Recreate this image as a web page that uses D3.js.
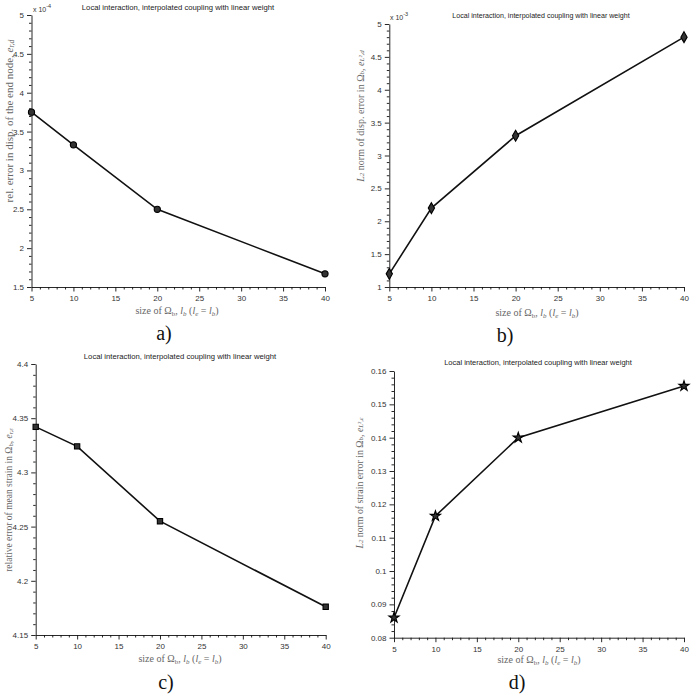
<!DOCTYPE html>
<html>
<head>
<meta charset="utf-8">
<script src="https://cdn.jsdelivr.net/npm/d3@7"></script>
<style>
  body { margin: 0; background: #fff; }
  .tick text { font-family: "Liberation Sans", Arial, sans-serif; fill: #333; }
  .lbl { font-family: "Liberation Serif", "Times New Roman", serif; fill: #666; }
</style>
</head>
<body>
<svg width="691" height="696"></svg>
<script>
// data
const sizes = [5, 10, 20, 40];
const endNodeErr = [3.75, 3.33, 2.5, 1.67];          // x 10^-4
const dispL2Err = [1.2, 2.2, 3.3, 4.8];              // x 10^-3
const meanStrainErr = [4.342, 4.324, 4.255, 4.176];
const strainL2Err = [0.086, 0.1165, 0.14, 0.1555];

const xTicks = [5, 10, 15, 20, 25, 30, 35, 40];
const yTicksA = [1.5, 2, 2.5, 3, 3.5, 4, 4.5, 5];
const yTicksB = [1, 1.5, 2, 2.5, 3, 3.5, 4, 4.5, 5];
const yTicksC = [4.15, 4.2, 4.25, 4.3, 4.35, 4.4];
const yTicksD = [0.08, 0.09, 0.1, 0.11, 0.12, 0.13, 0.14, 0.15, 0.16];

const title = "Local interaction, interpolated coupling with linear weight";

const svg = d3.select("svg");

// split every major interval into 5
function minorOf(ticks) {
  const out = [];
  for (let i = 0; i < ticks.length - 1; i++) {
    const step = (ticks[i + 1] - ticks[i]) / 5;
    for (let k = 1; k < 5; k++) out.push(ticks[i] + k * step);
  }
  return out;
}

// text with subscripts/italics: parts = [[text, style], ...]
function richText(sel, parts) {
  parts.forEach(([t, s]) => {
    const ts = sel.append("tspan").text(t);
    if (s && s.includes("i")) ts.attr("font-style", "italic");
    if (s && s.includes("sub")) ts.attr("font-size", "70%").attr("baseline-shift", "-25%");
  });
}

const xLabelParts = [["size of Ω"], ["b", "sub"], [", "], ["l", "i"], ["b", "sub i"],
  [" ("], ["l", "i"], ["e", "sub i"], [" = "], ["l", "i"], ["b", "sub i"], [")"]];

const panels = [
  { xr: [31.5, 325], yr: [287, 15], yTicks: yTicksA, values: endNodeErr,
    symbol: d3.symbolCircle, size: 30, exp: "-4", expPos: [33, 12],
    title: [178, 10, 7.7], ylab: [9, 121, 11],
    ylabParts: [["rel. error in disp. of the end node, "], ["e", "i"], ["r,d", "sub i"]],
    xlab: [177, 314], tag: ["a)", 164, 340] },
  { xr: [389.3, 684], yr: [287, 24], yTicks: yTicksB, values: dispL2Err,
    symbol: d3.symbolDiamond, size: 34, exp: "-3", expPos: [390, 20],
    title: [541, 18, 7.1], ylab: [360, 116, 10],
    ylabParts: [["L", "i"], ["2", "sub i"], [" norm of disp. error in Ω"], ["b", "sub"], [", "], ["e", "i"], ["L²,d", "sub i"]],
    xlab: [537, 316], tag: ["b)", 505, 342] },
  { xr: [35.7, 325.7], yr: [635, 364], yTicks: yTicksC, values: meanStrainErr,
    symbol: d3.symbolSquare, size: 28, exp: null,
    title: [180, 359, 7.7], ylab: [9, 500, 9.5],
    ylabParts: [["relative error of mean strain in Ω"], ["b", "sub"], [", "], ["e", "i"], ["r,ε", "sub i"]],
    xlab: [180, 662], tag: ["c)", 166, 689] },
  { xr: [394, 684], yr: [637.7, 371], yTicks: yTicksD, values: strainL2Err,
    symbol: d3.symbolStar, size: 32, exp: null,
    title: [538, 365, 7.5], ylab: [359, 483, 9.8],
    ylabParts: [["L", "i"], ["2", "sub i"], [" norm of strain error in Ω"], ["b", "sub"], [", "], ["e", "i"], ["L²,ε", "sub i"]],
    xlab: [539, 663], tag: ["d)", 517, 689] }
];

const fmt = d => String(+d.toFixed(3));

panels.forEach(p => {
  const yTicks = p.yTicks;
  const x = d3.scaleLinear().domain([5, 40]).range(p.xr);
  const y = d3.scaleLinear().domain([yTicks[0], yTicks[yTicks.length - 1]]).range(p.yr);
  const g = svg.append("g");

  // minor ticks
  g.append("g").attr("transform", `translate(0,${p.yr[0]})`)
    .call(d3.axisBottom(x).tickValues(d3.range(6, 40).filter(v => v % 5)).tickSize(2.5).tickFormat(""))
    .call(a => a.select(".domain").remove());
  g.append("g").attr("transform", `translate(${p.xr[0]},0)`)
    .call(d3.axisLeft(y).tickValues(minorOf(yTicks)).tickSize(2.5).tickFormat(""))
    .call(a => a.select(".domain").remove());

  // major axes
  g.append("g").attr("transform", `translate(0,${p.yr[0]})`)
    .call(d3.axisBottom(x).tickValues(xTicks).tickSize(4.5).tickPadding(4).tickSizeOuter(0))
    .call(a => a.selectAll("text").attr("font-size", 8));
  g.append("g").attr("transform", `translate(${p.xr[0]},0)`)
    .call(d3.axisLeft(y).tickValues(yTicks).tickFormat(fmt).tickSize(4.5).tickPadding(3).tickSizeOuter(0))
    .call(a => a.selectAll("text").attr("font-size", 8));
  g.selectAll(".domain, .tick line").attr("stroke", "#111").attr("stroke-width", 0.9);

  // line + markers
  const pts = sizes.map((s, i) => [s, p.values[i]]);
  g.append("path").datum(pts)
    .attr("fill", "none").attr("stroke", "#111").attr("stroke-width", 1.6)
    .attr("d", d3.line().x(d => x(d[0])).y(d => y(d[1])));
  g.selectAll(".mk").data(pts).join("path")
    .attr("transform", d => `translate(${x(d[0])},${y(d[1])})`)
    .attr("d", d3.symbol(p.symbol, p.size))
    .attr("fill", "#333").attr("stroke", "#000").attr("stroke-width", 1.1);

  // exponent
  if (p.exp) {
    const t = g.append("text").attr("x", p.expPos[0]).attr("y", p.expPos[1])
      .attr("font-family", "Liberation Sans, Arial, sans-serif").attr("font-size", 7).attr("fill", "#333");
    t.append("tspan").text("x 10");
    t.append("tspan").text(p.exp).attr("font-size", 5.5).attr("dy", -4);
  }

  // title
  g.append("text").attr("x", p.title[0]).attr("y", p.title[1])
    .attr("text-anchor", "middle").attr("font-family", "Liberation Sans, Arial, sans-serif")
    .attr("font-size", p.title[2]).attr("fill", "#222").text(title);

  // axis labels
  const xl = g.append("text").attr("class", "lbl").attr("x", p.xlab[0]).attr("y", p.xlab[1])
    .attr("text-anchor", "middle").attr("font-size", 10);
  richText(xl, xLabelParts);
  const yl = g.append("text").attr("class", "lbl")
    .attr("transform", `translate(${p.ylab[0]},${p.ylab[1]}) rotate(-90)`)
    .attr("text-anchor", "middle").attr("dominant-baseline", "central").attr("font-size", p.ylab[2]);
  richText(yl, p.ylabParts);

  // panel tag
  g.append("text").attr("x", p.tag[1]).attr("y", p.tag[2])
    .attr("text-anchor", "middle").attr("font-family", "Liberation Serif, serif")
    .attr("font-size", 20).attr("fill", "#111").text(p.tag[0]);
});
</script>
</body>
</html>
